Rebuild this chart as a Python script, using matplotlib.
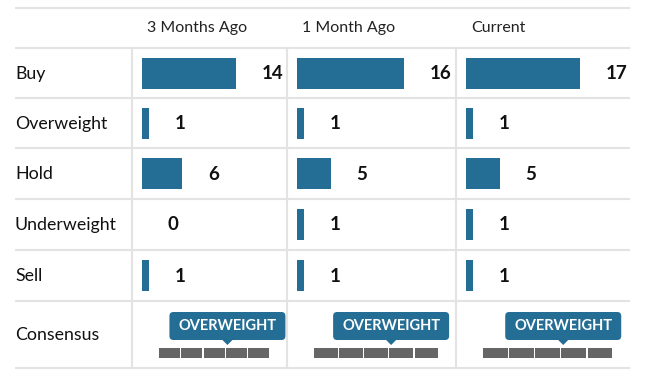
import matplotlib.pyplot as plt
from matplotlib.patches import FancyBboxPatch, Polygon, Rectangle

periods = ['3 Months Ago', '1 Month Ago', 'Current']
ratings = ['Buy', 'Overweight', 'Hold', 'Underweight', 'Sell']
three_months = [14, 1, 6, 0, 1]
one_month = [16, 1, 5, 1, 1]
current = [17, 1, 5, 1, 1]
consensus = ['OVERWEIGHT', 'OVERWEIGHT', 'OVERWEIGHT']
consensus_pos = [3.1, 3.1, 3.1]   # position on the 5-step scale (0..5)

BLUE = '#246e96'
GRID = '#e3e3e3'
FONT = 'Lato'


def plot():
    counts = [three_months, one_month, current]

    fig = plt.figure(figsize=(6.58, 3.84), dpi=100)
    ax = fig.add_axes([0, 0, 1, 1])
    ax.set_xlim(0, 658)
    ax.set_ylim(384, 0)
    ax.axis('off')

    # layout in pixels
    h_lines = [8, 48, 98, 148, 199, 250, 301, 368]
    col_edges = [132, 287, 456, 630]
    unit = 6.7

    for y in h_lines:
        ax.plot([15, 630], [y, y], color=GRID, lw=1.5, solid_capstyle='butt')
    for x in col_edges[:-1]:
        ax.plot([x, x], [48, 368], color=GRID, lw=1.5, solid_capstyle='butt')

    row_centers = [(h_lines[i + 1] + h_lines[i + 2]) / 2 for i in range(len(ratings))]
    cons_center = (h_lines[-2] + h_lines[-1]) / 2

    for r, yc in zip(ratings, row_centers):
        ax.text(15, yc + 0.5, r, fontsize=12.8, family=FONT, va='center', ha='left',
                color='#111111')
    ax.text(15, cons_center + 0.5, 'Consensus', fontsize=12.8, family=FONT, va='center',
            ha='left', color='#111111')

    for j, (period, vals) in enumerate(zip(periods, counts)):
        x0 = col_edges[j]
        x1 = col_edges[j + 1]
        ax.text(x0 + 15, 28, period, fontsize=11.5, family=FONT, va='center',
                ha='left', color='#222222')

        left = x0 + 10
        ax.barh(row_centers, [v * unit for v in vals], left=left, height=31, color=BLUE)
        for v, yc in zip(vals, row_centers):
            ax.text(left + v * unit + 26, yc + 0.5, str(v), fontsize=13.5, family=FONT,
                    fontweight='bold', va='center', ha='left', color='#111111')

        # consensus scale
        s0 = x0 + 26
        s1 = x1 - 17
        seg_w = (s1 - s0) / 5
        for k in range(5):
            ax.add_patch(Rectangle((s0 + k * seg_w + 0.7, 348), seg_w - 1.4, 10,
                                   facecolor='#666666', edgecolor='none'))
        px = s0 + consensus_pos[j] * seg_w
        bw, bh = 116, 28
        ax.add_patch(FancyBboxPatch((px - bw / 2, 312), bw, bh,
                                    boxstyle='round,pad=0,rounding_size=4',
                                    facecolor=BLUE, edgecolor='none'))
        ax.add_patch(Polygon([[px - 6, 339], [px + 6, 339], [px, 345]],
                             closed=True, facecolor=BLUE, edgecolor='none'))
        ax.text(px, 326, consensus[j], fontsize=10.5, family=FONT, fontweight='bold',
                va='center', ha='center', color='white')

    fig.savefig('out.png', dpi=100)


if __name__ == '__main__':
    plot()
